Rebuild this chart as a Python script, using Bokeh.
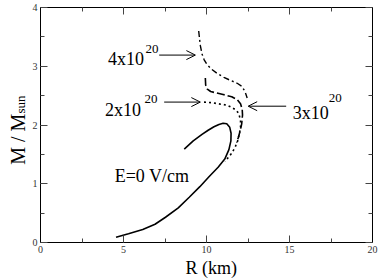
from math import pi
from bokeh.plotting import figure
from bokeh.layouts import row, column
from bokeh.models import (Range1d, LinearAxis, SingleIntervalTicker, Label,
                          Arrow, OpenHead)
from bokeh.core.properties import value
from bokeh.embed import file_html
from bokeh.resources import INLINE

# ---- data ----
# E = 0 V/cm
r_e0 = [4.55, 5.3, 6.16, 6.9, 7.53, 8.3, 8.96, 9.6, 10.15, 10.7, 11.10, 11.35,
        11.47, 11.48, 11.40, 11.22, 11.0, 10.75, 10.45, 10.1, 9.73, 9.2, 8.66]
m_e0 = [0.09, 0.15, 0.22, 0.31, 0.43, 0.59, 0.77, 0.95, 1.12, 1.28, 1.42, 1.58,
        1.73, 1.86, 1.96, 2.02, 2.03, 2.01, 1.97, 1.91, 1.84, 1.73, 1.59]
# E = 2x10^20 V/cm (dotted)
r_e2 = [9.85, 10.3, 10.73, 11.2, 11.52, 11.8, 11.95, 12.05, 12.05, 11.98,
        11.88, 11.72, 11.52, 11.32, 11.12]
m_e2 = [2.39, 2.38, 2.36, 2.34, 2.30, 2.25, 2.19, 2.08, 1.97, 1.85,
        1.73, 1.62, 1.52, 1.45, 1.38]
# E = 3x10^20 V/cm (dashed)
r_e3 = [9.93, 9.95, 10.05, 10.25, 10.52, 11.0, 11.52, 11.85, 12.05, 12.15,
        12.17, 12.12, 12.03, 11.92, 11.82]
m_e3 = [2.80, 2.68, 2.61, 2.57, 2.55, 2.52, 2.48, 2.43, 2.36, 2.27,
        2.17, 2.02, 1.90, 1.79, 1.70]
# E = 4x10^20 V/cm (dash-dot)
r_e4 = [9.53, 9.58, 9.63, 9.73, 9.86, 10.03, 10.3, 10.63, 11.05, 11.52,
        11.85, 12.12, 12.3, 12.38, 12.45]
m_e4 = [3.60, 3.47, 3.35, 3.21, 3.11, 3.03, 2.95, 2.88, 2.81, 2.75,
        2.71, 2.66, 2.58, 2.52, 2.46]

x_ticks_interval = 5
y_ticks_interval = 1

SERIF = "Liberation Serif"

p = figure(width=353, height=257, output_backend="svg", toolbar_location=None,
           x_range=Range1d(0, 20), y_range=Range1d(0, 4),
           x_axis_location=None, y_axis_location=None,
           min_border_left=8, min_border_right=10, min_border_top=7,
           min_border_bottom=15)
p.grid.visible = False
p.outline_line_color = "black"
p.outline_line_width = 1
p.background_fill_color = "white"
p.border_fill_color = "white"


def make_axis(interval, labels):
    ax = LinearAxis(ticker=SingleIntervalTicker(interval=interval, num_minor_ticks=2))
    ax.major_tick_in = 7
    ax.major_tick_out = 0
    ax.minor_tick_in = 4
    ax.minor_tick_out = 0
    ax.axis_line_color = "black"
    ax.major_tick_line_color = "#444444"
    ax.minor_tick_line_color = "#444444"
    if labels:
        ax.major_label_text_font = SERIF
        ax.major_label_text_font_size = "10px"
        ax.major_label_text_color = "#333333"
        ax.major_label_standoff = 3
    else:
        ax.major_label_text_font_size = "1px"
        ax.major_label_text_color = None
        ax.major_label_standoff = 0
    return ax


p.add_layout(make_axis(x_ticks_interval, True), "below")
p.add_layout(make_axis(x_ticks_interval, False), "above")
p.add_layout(make_axis(y_ticks_interval, True), "left")
p.add_layout(make_axis(y_ticks_interval, False), "right")

p.line(r_e0, m_e0, line_color="black", line_width=1.6)
p.line(r_e2, m_e2, line_color="black", line_width=1.6, line_dash="2 3")
p.line(r_e3, m_e3, line_color="black", line_width=1.6, line_dash="8 3")
p.line(r_e4, m_e4, line_color="black", line_width=1.4, line_dash="6 3 2 3")

# arrows
for xs, ys, xe in [(7.15, 3.19, 9.33), (7.45, 2.39, 9.63), (14.8, 2.32, 12.51)]:
    p.add_layout(Arrow(x_start=xs, y_start=ys, x_end=xe, y_end=ys,
                       line_color="black", line_width=1,
                       end=OpenHead(size=9, line_width=1, line_color="black")))


def lab(x, y, t, size):
    p.add_layout(Label(x=x, y=y, text=t, text_font=SERIF, text_font_size=size,
                       text_color="black", text_baseline="alphabetic",
                       text_align="left"))


lab(4.07, 3.12, "4x10", "18px")
lab(6.33, 3.30, "20", "13px")
lab(3.89, 2.25, "2x10", "18px")
lab(6.26, 2.45, "20", "13px")
lab(15.2, 2.21, "3x10", "18px")
lab(17.36, 2.46, "20", "13px")
lab(4.47, 1.135, "E=0 V/cm", "18px")


def text_strip(w, h):
    f = figure(width=w, height=h, output_backend="svg", toolbar_location=None,
               x_range=Range1d(0, w), y_range=Range1d(0, h),
               x_axis_location=None, y_axis_location=None, min_border=0)
    f.grid.visible = False
    f.outline_line_color = None
    f.background_fill_color = "white"
    f.border_fill_color = "white"
    return f


def put(f, x, y, t, size, angle=0.0):
    f.text(x=[x], y=[y], text=[t], angle=angle, text_font=value(SERIF),
           text_font_size=value(size), text_color="black",
           text_baseline="alphabetic", text_align="left")


# y-axis title strip (left of the plot) : M / M_sun
ytitle = text_strip(29, 257)
put(ytitle, 17, 85, "M / M", "20px", angle=pi / 2)
put(ytitle, 19.5, 141, "sun", "13px", angle=pi / 2)

# x-axis title strip (below the plot)
xtitle = text_strip(382, 23)
put(xtitle, 185, 13, "R  (km)", "18px")

page = column(row(ytitle, p, spacing=0), xtitle, spacing=0)

open("out.html", "w").write(file_html(page, INLINE))
